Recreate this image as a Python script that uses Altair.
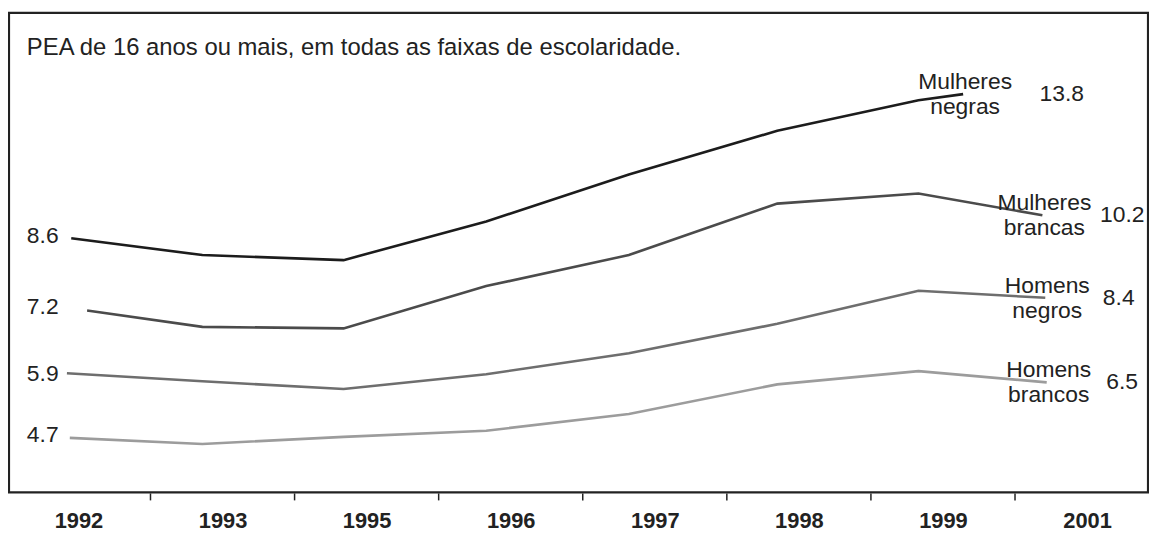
import altair as alt
import pandas as pd

# ---- data ----
years = ["1992", "1993", "1995", "1996", "1997", "1998", "1999", "2001"]
series = ["Mulheres negras", "Mulheres brancas", "Homens negros", "Homens brancos"]
series_names = ["Mulheres\nnegras", "Mulheres\nbrancas", "Homens\nnegros", "Homens\nbrancos"]

mulheres_negras = [8.60, 8.27, 8.17, 8.93, 9.85, 10.71, 11.31, 11.43]
mulheres_brancas = [7.18, 6.86, 6.83, 7.66, 8.27, 9.28, 9.48, 9.05]
homens_negros = [5.95, 5.79, 5.64, 5.93, 6.34, 6.92, 7.57, 7.43]
homens_brancos = [4.68, 4.56, 4.70, 4.82, 5.15, 5.73, 5.99, 5.77]
values = [mulheres_negras, mulheres_brancas, homens_negros, homens_brancos]

# position of each point along the year axis (year index units)
x_mid = [0.86, 1.84, 2.83, 3.82, 4.85, 5.83]
x_first = [-0.05, 0.06, -0.08, -0.06]
x_last = [6.14, 6.69, 6.71, 6.72]

start_labels = ["8.6", "7.2", "5.9", "4.7"]
end_labels = ["13.8", "10.2", "8.4", "6.5"]

title_text = "PEA de 16 anos ou mais, em todas as faixas de escolaridade."

# ---- styles ----
colors = ["#1c1c1c", "#4b4b4b", "#6e6e6e", "#9c9c9c"]
value_dx = [77, 58, 58, 60]
FONT = "Liberation Sans"
TXT = "#222222"

rows = []
for s, vals, xf, xl in zip(series, values, x_first, x_last):
    xs = [xf] + x_mid + [xl]
    for i, (xx, v) in enumerate(zip(xs, vals)):
        rows.append({"series": s, "idx": i, "x": xx, "v": v})
df = pd.DataFrame(rows)

df_start = pd.DataFrame({"series": series, "label": start_labels,
                         "lv": [float(t) for t in start_labels]})
df_end = pd.DataFrame({"series": series, "name": series_names, "label": end_labels,
                       "x": x_last, "v": [vals[-1] for vals in values]})
df_ticks = pd.DataFrame({"x": [i + 0.5 for i in range(len(years) - 1)]})

xscale = alt.Scale(domain=[-0.482, 7.423], nice=False, zero=False)
yscale = alt.Scale(domain=[3.608, 13.027], nice=False, zero=False)

label_expr = "[" + ",".join(f"'{y}'" for y in years) + "][datum.value]"
xaxis = alt.Axis(values=list(range(len(years))), labelExpr=label_expr,
                 ticks=False, domain=False, grid=False, title=None,
                 labelFont=FONT, labelFontSize=22, labelFontWeight="bold",
                 labelColor=TXT, labelBaseline="alphabetic",
                 labelPadding=35, labelFlush=False, labelOverlap=False)

X = alt.X("x:Q", scale=xscale, axis=xaxis)

lines = alt.Chart(df).mark_line(strokeWidth=2.6).encode(
    x=X,
    y=alt.Y("v:Q", scale=yscale, axis=None),
    color=alt.Color("series:N", scale=alt.Scale(domain=series, range=colors), legend=None),
    order="idx:O",
)

ticks = alt.Chart(df_ticks).mark_rule(color=TXT, strokeWidth=1.5).encode(
    x=X,
    y=alt.value(484), y2=alt.value(491),
)

left = alt.Chart(df_start).mark_text(
    align="left", baseline="middle", font=FONT, fontSize=23, color=TXT, dy=-2
).encode(
    x=alt.value(18),
    y=alt.Y("lv:Q", scale=yscale, axis=None),
    text="label:N",
)

names = alt.Chart(df_end).mark_text(
    align="center", baseline="middle", font=FONT, fontSize=23, color=TXT,
    lineBreak="\n", lineHeight=25, dx=2, dy=-12
).encode(
    x=X,
    y=alt.Y("v:Q", scale=yscale, axis=None),
    text="name:N",
)

value_layers = []
for s, dx in zip(series, value_dx):
    value_layers.append(
        alt.Chart(df_end).transform_filter(alt.datum.series == s).mark_text(
            align="left", baseline="middle", font=FONT, fontSize=23, color=TXT, dx=dx
        ).encode(
            x=X,
            y=alt.Y("v:Q", scale=yscale, axis=None),
            text="label:N",
        )
    )

title = alt.Chart(pd.DataFrame({"t": [title_text]})).mark_text(
    align="left", baseline="alphabetic", font=FONT, fontSize=24, color=TXT
).encode(x=alt.value(18), y=alt.value(42), text="t:N")

chart = alt.layer(lines, ticks, left, names, *value_layers, title).properties(
    width=1147, height=483,
    autosize=alt.AutoSizeParams(type="none"),
    padding={"left": 1, "top": 3, "right": 1, "bottom": 40},
    background="white",
).configure_view(stroke=TXT, strokeWidth=2.2)

chart.save("out.html", embed_options={"renderer": "svg", "actions": False})
